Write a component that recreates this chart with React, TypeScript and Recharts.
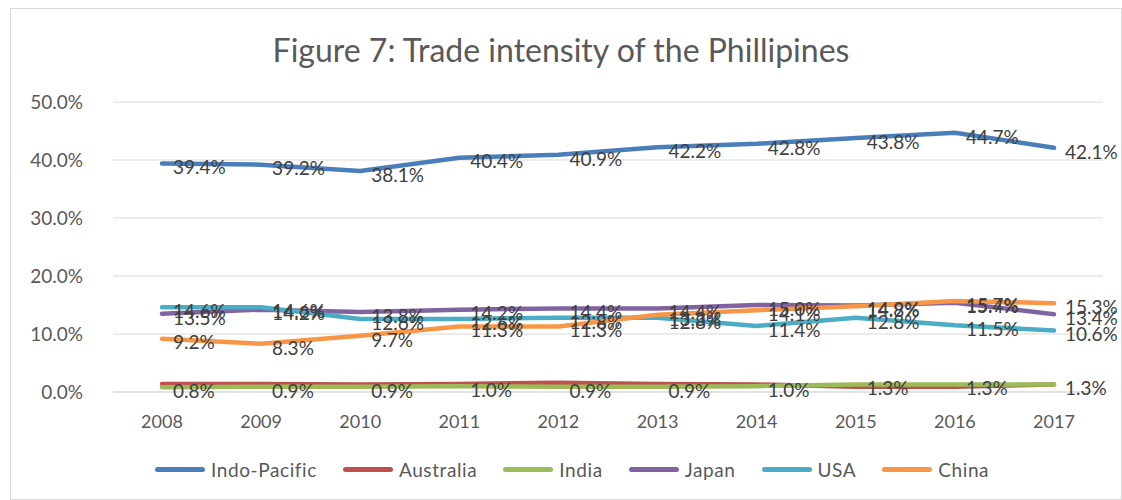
import { LineChart, Line, XAxis, YAxis, CartesianGrid, LabelList } from "recharts"

const years = ["2008", "2009", "2010", "2011", "2012", "2013", "2014", "2015", "2016", "2017"]
const indoPacific = [39.4, 39.2, 38.1, 40.4, 40.9, 42.2, 42.8, 43.8, 44.7, 42.1]
const australia = [1.4, 1.4, 1.3, 1.4, 1.6, 1.4, 1.3, 0.9, 0.9, 1.3]
const india = [0.8, 0.9, 0.9, 1.0, 0.9, 0.9, 1.0, 1.3, 1.3, 1.3]
const japan = [13.5, 14.2, 13.8, 14.2, 14.4, 14.4, 15.0, 14.9, 15.4, 13.4]
const usa = [14.6, 14.6, 12.6, 12.6, 12.8, 12.8, 11.4, 12.8, 11.5, 10.6]
const china = [9.2, 8.3, 9.7, 11.3, 11.3, 13.3, 14.1, 14.8, 15.7, 15.3]
const yTicks = [0, 10, 20, 30, 40, 50]

const series = [
  { key: "indoPacific", name: "Indo-Pacific", color: "#4a7ebb", labels: true },
  { key: "australia", name: "Australia", color: "#c0504d", labels: false },
  { key: "india", name: "India", color: "#9bbb59", labels: true },
  { key: "japan", name: "Japan", color: "#8064a2", labels: true },
  { key: "usa", name: "USA", color: "#4bacc6", labels: true },
  { key: "china", name: "China", color: "#f79646", labels: true },
]

const data = years.map((y, i) => ({
  year: y,
  indoPacific: indoPacific[i],
  australia: australia[i],
  india: india[i],
  japan: japan[i],
  usa: usa[i],
  china: china[i],
}))

const FONT = "Lato, 'Noto Sans', sans-serif"

const PointLabel = (props: any) => {
  const { x, y, value } = props
  return (
    <text x={x + 11} y={y + 6} dominantBaseline="middle" fontSize={19} fill="#404040" fontFamily={FONT}>
      {value.toFixed(1)}%
    </text>
  )
}

export default function App() {
  return (
    <div style={{ position: "relative", width: 1122, height: 500, background: "#fff", fontFamily: FONT }}>
      <style>{`body{margin:0}`}</style>
      <div style={{ position: "absolute", left: 10, top: 8, width: 1112, height: 492, border: "1px solid #d9d9d9", boxSizing: "border-box" }} />
      <div style={{ position: "absolute", top: 30, width: "100%", textAlign: "center", fontSize: 32, color: "#595959" }}>
        Figure 7: Trade intensity of the Phillipines
      </div>
      <LineChart width={1122} height={500} data={data} margin={{ top: 102, right: 19, bottom: 78, left: 13 }}>
        <CartesianGrid vertical={false} stroke="#d9d9d9" />
        <XAxis
          dataKey="year"
          padding={{ left: 49, right: 49 }}
          axisLine={{ stroke: "#d9d9d9" }}
          tickLine={false}
          tickMargin={17}
          tick={{ fontSize: 18, fill: "#595959", fontFamily: FONT }}
        />
        <YAxis
          width={100}
          domain={[0, 50]}
          ticks={yTicks}
          axisLine={false}
          tickLine={false}
          tickMargin={24}
          tickFormatter={(v: number) => v.toFixed(1) + "%"}
          tick={{ fontSize: 19, fill: "#595959", fontFamily: FONT }}
        />
        {series.map(s => (
          <Line
            key={s.key}
            dataKey={s.key}
            name={s.name}
            stroke={s.color}
            strokeWidth={4.5}
            strokeLinecap="round"
            dot={false}
            type="linear"
            isAnimationActive={false}
          >
            {s.labels && <LabelList dataKey={s.key} content={<PointLabel />} />}
          </Line>
        ))}
      </LineChart>
      <div style={{ position: "absolute", top: 458, left: 155, display: "flex", gap: 26, fontSize: 19, color: "#595959", letterSpacing: 0.6 }}>
        {series.map(s => (
          <div key={s.key} style={{ display: "flex", alignItems: "center", gap: 6 }}>
            <div style={{ width: 50, height: 5, borderRadius: 2.5, background: s.color }} />
            <span>{s.name}</span>
          </div>
        ))}
      </div>
    </div>
  )
}
